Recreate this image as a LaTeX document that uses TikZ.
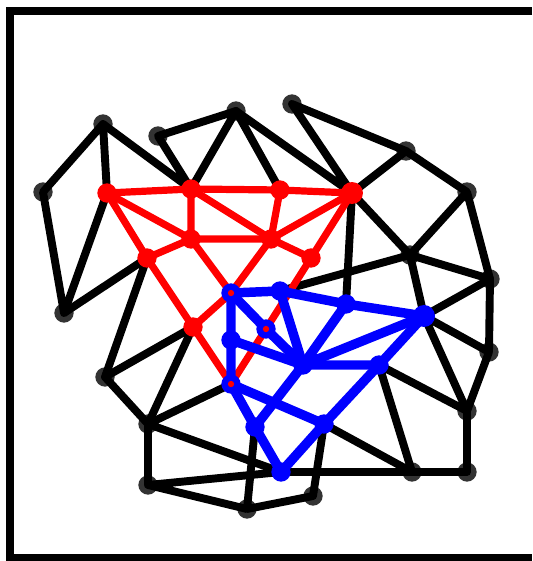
\documentclass[tikz,border=0pt]{standalone}
\usepackage{tikz}

\pgfdeclarelayer{under}
\pgfdeclarelayer{over}
\pgfsetlayers{under,main,over}

\begin{document}
\begin{tikzpicture}[x=0.02cm, y=-0.02cm,
        graynode/.style={circle, fill=black!80, inner sep=0pt, minimum size=11pt},
        rednode/.style={circle, fill=red, inner sep=0pt, minimum size=11pt},
        bluenode/.style={circle, fill=blue, inner sep=0pt, minimum size=11pt},
        sharednode/.style={bluenode, path picture={\fill[red] (path picture bounding box.center) circle (1.8pt);}},
        blackedge/.style={line width=4.5pt, line join=round},
        rededge/.style={red, line width=4.1pt, line join=round},
        blueedge/.style={blue, line width=5.4pt, line join=round}]
        \useasboundingbox (0,0) rectangle (532,561);

        % Frame (open on the right)
        \draw[line width=4.2pt] (532,11) -- (10,11) -- (10,558) -- (532,558);

        % Black vertices
        \begin{pgfonlayer}{under}
        \node[graynode] (A) at (292,104) {};
        \node[graynode] (B) at (236,111) {};
        \node[graynode] (C) at (158,136) {};
        \node[graynode] (D) at (103,124) {};
        \node[graynode] (E) at (43,192) {};
        \node[graynode] (F) at (64,313) {};
        \node[graynode] (G) at (406,151) {};
        \node[graynode] (H) at (467,192) {};
        \node[graynode] (I) at (410,255) {};
        \node[graynode] (J) at (490,279) {};
        \node[graynode] (K) at (489,352) {};
        \node[graynode] (L) at (467,411) {};
        \node[graynode] (M) at (467,472) {};
        \node[graynode] (N) at (412,472) {};
        \node[graynode] (O) at (313,496) {};
        \node[graynode] (P) at (247,509) {};
        \node[graynode] (Q) at (148,485) {};
        \node[graynode] (R) at (148,424) {};
        \node[graynode] (S) at (105,377) {};
        \end{pgfonlayer}

        \begin{pgfonlayer}{over}
        % Red vertices
        \node[rednode] (r1) at (107,193) {};
        \node[rednode] (r2) at (191,189) {};
        \node[rednode] (r3) at (280,190) {};
        \node[rednode, minimum size=12.5pt] (r4) at (352,193) {};
        \node[rednode] (r5) at (191,239) {};
        \node[rednode] (r6) at (271,239) {};
        \node[rednode] (r7) at (147,258) {};
        \node[rednode] (r8) at (311,258) {};
        \node[rednode] (r9) at (193,327) {};

        % Blue vertices (three of them shared with the red graph)
        \node[sharednode] (b1) at (231,293) {};
        \node[bluenode] (b2) at (280,291) {};
        \node[bluenode] (b3) at (346,304) {};
        \node[bluenode, minimum size=12.5pt] (b4) at (424,316) {};
        \node[sharednode] (b5) at (266,329) {};
        \node[bluenode] (b6) at (231,340) {};
        \node[bluenode] (b7) at (303,365) {};
        \node[bluenode] (b8) at (379,365) {};
        \node[sharednode] (b9) at (231,384) {};
        \node[bluenode] (b10) at (255,427) {};
        \node[bluenode] (b11) at (324,424) {};
        \node[bluenode] (b12) at (281,472) {};
        \end{pgfonlayer}

        % Black edges
        \draw[blackedge] (r1.center) -- (D.center) -- (E.center) -- (F.center) -- (r1.center);
        \draw[blackedge] (D.center) -- (r2.center) -- (C.center) -- (B.center) -- (r2.center);
        \draw[blackedge] (r3.center) -- (B.center) -- (r4.center) -- (A.center) -- (G.center) -- (r4.center);
        \draw[blackedge] (G.center) -- (H.center) -- (I.center) -- (r4.center) -- (b3.center);
        \draw[blackedge] (b2.center) -- (I.center) -- (b4.center) -- (J.center) -- (H.center);
        \draw[blackedge] (I.center) -- (J.center) -- (K.center) -- (b4.center) -- (L.center) -- (K.center);
        \draw[blackedge] (b8.center) -- (L.center) -- (M.center) -- (N.center) -- (b8.center);
        \draw[blackedge] (b11.center) -- (N.center) -- (b12.center) -- (R.center) -- (b9.center);
        \draw[blackedge] (b11.center) -- (O.center) -- (P.center) -- (b10.center);
        \draw[blackedge] (P.center) -- (Q.center) -- (b12.center);
        \draw[blackedge] (Q.center) -- (R.center) -- (S.center) -- (r7.center) -- (F.center);
        \draw[blackedge] (S.center) -- (r9.center) -- (R.center);

        % Red edges
        \draw[rededge] (r1.center) -- (r2.center) -- (r3.center) -- (r4.center);
        \draw[rededge] (r1.center) -- (r7.center) -- (r9.center) -- (b9.center);
        \draw[rededge] (r7.center) -- (r5.center) -- (r6.center) -- (r8.center) -- (r4.center);
        \draw[rededge] (r1.center) -- (r5.center) -- (r2.center) -- (r6.center) -- (r3.center);
        \draw[rededge] (r4.center) -- (r6.center) -- (b1.center) -- (r5.center);
        \draw[rededge] (r9.center) -- (b1.center);
        \draw[rededge] (r8.center) -- (b5.center) -- (b9.center);

        % Blue edges
        \draw[blueedge] (b1.center) -- (b2.center) -- (b3.center) -- (b4.center) -- (b8.center) -- (b11.center) -- (b12.center);
        \draw[blueedge] (b1.center) -- (b6.center) -- (b9.center) -- (b10.center) -- (b12.center);
        \draw[blueedge] (b1.center) -- (b5.center) -- (b7.center) -- (b2.center);
        \draw[blueedge] (b6.center) -- (b7.center) -- (b8.center);
        \draw[blueedge] (b3.center) -- (b7.center) -- (b4.center);
        \draw[blueedge] (b7.center) -- (b10.center);
        \draw[blueedge] (b9.center) -- (b11.center);
\end{tikzpicture}
\end{document}
